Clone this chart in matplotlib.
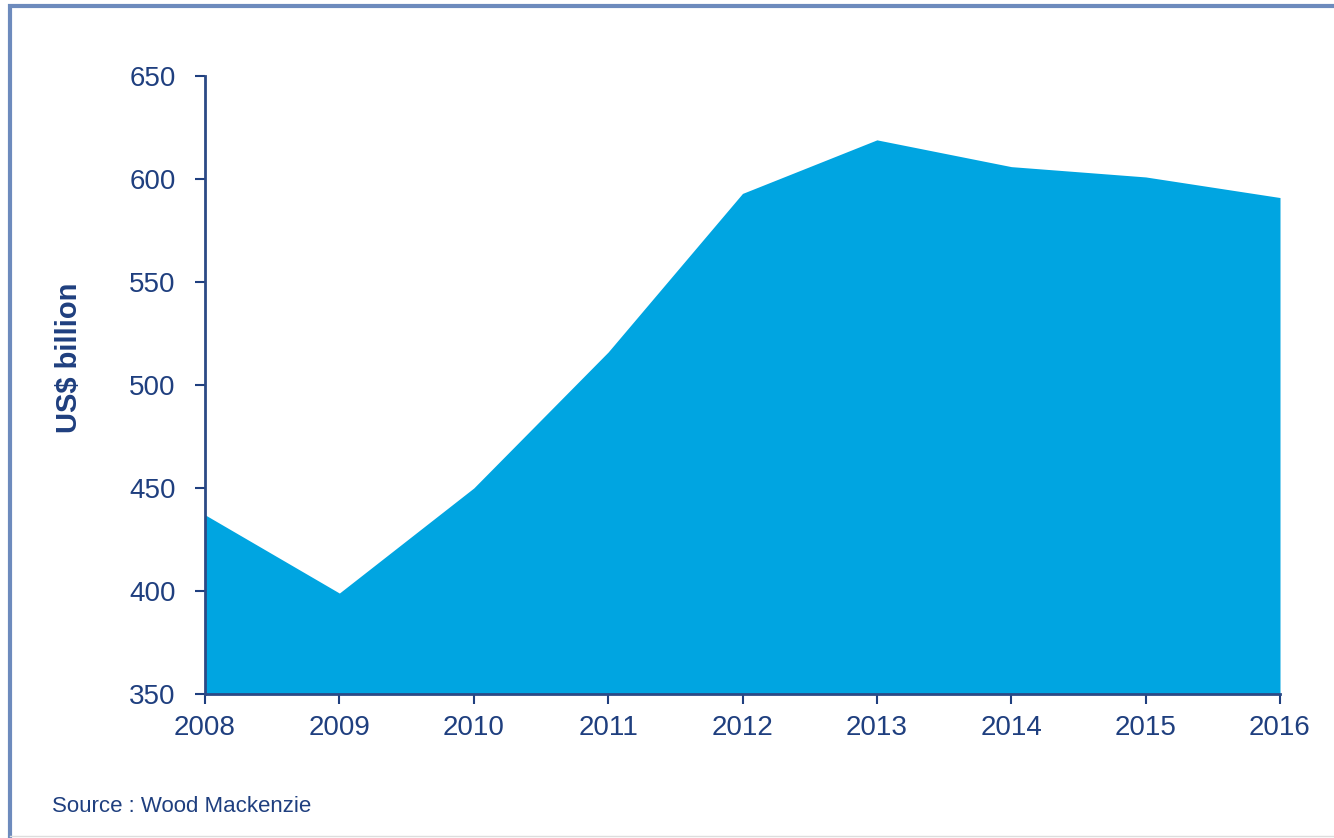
import matplotlib.pyplot as plt
from matplotlib.patches import Rectangle

plt.rcParams['font.family'] = ['Liberation Sans', 'DejaVu Sans']

# data
years = [2008, 2009, 2010, 2011, 2012, 2013, 2014, 2015, 2016]
spend = [437, 399, 450, 516, 593, 619, 606, 601, 591]

navy = '#1f3f7f'
fill_color = '#00a5e1'

fig = plt.figure(figsize=(13.34, 8.38), dpi=100)
ax = fig.add_axes([205 / 1334, 1 - 694 / 838, (1280 - 205) / 1334, (694 - 76) / 838])

ax.fill_between(years, spend, 350, color=fill_color, linewidth=0)

ax.set_xlim(2008, 2016)
ax.set_ylim(350, 650)
ax.set_xticks(years)
ax.set_yticks(range(350, 651, 50))

ax.tick_params(axis='both', colors=navy, labelcolor=navy, labelsize=20,
               length=7, width=1.5, direction='out')
ax.tick_params(axis='x', pad=8)
ax.tick_params(axis='y', pad=14)

for side in ['top', 'right']:
    ax.spines[side].set_visible(False)
for side in ['left', 'bottom']:
    ax.spines[side].set_color('#2c4a85')
    ax.spines[side].set_linewidth(2)

ax.set_ylabel('US$ billion', fontsize=21, fontweight='bold', color=navy)
ax.yaxis.set_label_coords(83 / 1334, 1 - 358 / 838, transform=fig.transFigure)

# source note
fig.text(52 / 1334, 1 - 806 / 838, 'Source : Wood Mackenzie', fontsize=16,
         color=navy, va='center', ha='left')

# outer frame
frame = Rectangle((10 / 1334, -0.01), 1.05, 1 - 6 / 838 + 0.01, transform=fig.transFigure,
                  fill=False, edgecolor='#6d8bbd', linewidth=3, clip_on=False)
fig.patches.append(frame)
fig.add_artist(plt.Line2D([10 / 1334, 1], [1 - 836 / 838] * 2, color='#dddddd',
                          linewidth=1, transform=fig.transFigure))

fig.savefig('out.png', dpi=100, facecolor='white')
